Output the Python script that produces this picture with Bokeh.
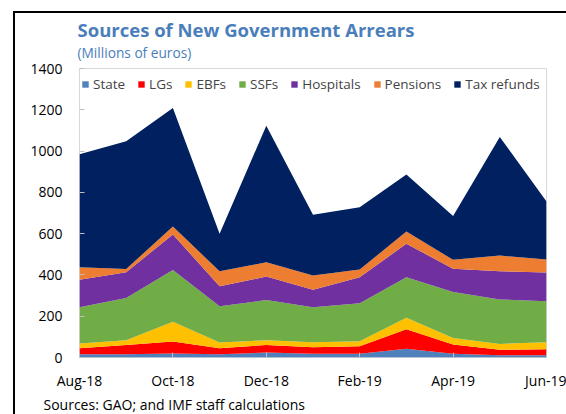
from bokeh.plotting import figure
from bokeh.models import ColumnDataSource, Range1d, FixedTicker, Title, InlineStyleSheet
from bokeh.embed import file_html
from bokeh.resources import INLINE

# ---------------- data (millions of euros) ----------------
months = ["Aug-18", "Sep-18", "Oct-18", "Nov-18", "Dec-18", "Jan-19",
          "Feb-19", "Mar-19", "Apr-19", "May-19", "Jun-19"]
state = [16, 16, 19, 16, 24, 18, 18, 42, 18, 11, 11]
lgs = [29, 45, 59, 29, 37, 32, 37, 95, 45, 26, 29]
ebfs = [23, 23, 95, 28, 23, 24, 24, 55, 32, 29, 34]
ssfs = [175, 204, 251, 175, 194, 170, 184, 197, 222, 215, 199]
hospitals = [134, 125, 172, 97, 114, 84, 126, 162, 113, 137, 139]
pensions = [60, 16, 38, 73, 69, 69, 37, 59, 43, 76, 63]
tax_refunds = [547, 618, 575, 181, 662, 294, 302, 277, 212, 574, 281]

series_names = ["State", "LGs", "EBFs", "SSFs", "Hospitals", "Pensions", "Tax refunds"]
series_values = [state, lgs, ebfs, ssfs, hospitals, pensions, tax_refunds]
colors = ["#4F81BD", "#FF0000", "#FFC000", "#70AD47", "#7030A0", "#ED7D31", "#002060"]
x_tick_idx = [0, 2, 4, 6, 8, 10]
y_ticks = [0, 200, 400, 600, 800, 1000, 1200, 1400]

title_text = "Sources of New Government Arrears"
subtitle_text = "(Millions of euros)"
source_text = "Sources: GAO; and IMF staff calculations"

# ---------------- layout ----------------
W, H = 566, 414
FL, FR, FT, FB = 79, 546, 68, 357   # frame edges in canvas pixels
XMIN, XMAX = 0, len(months) - 1
YMIN, YMAX = 0, 1400
FONT = "Open Sans"
BLUE = "#4A7EBB"

data = {"x": list(range(len(months)))}
for n, v in zip(series_names, series_values):
    data[n] = v
src = ColumnDataSource(data)

p = figure(width=W, height=H, output_backend="svg", toolbar_location=None,
           x_range=Range1d(XMIN, XMAX), y_range=Range1d(YMIN, YMAX),
           min_border_left=FL, min_border_right=W - FR,
           min_border_top=FT, min_border_bottom=H - FB)
p.background_fill_color = "white"
p.border_fill_color = "white"
p.outline_line_color = "#D9D9D9"
p.grid.visible = False

p.varea_stack(stackers=series_names, x="x", color=colors, source=src,
              legend_label=series_names)

for ax in (p.xaxis[0], p.yaxis[0]):
    ax.axis_line_color = None
    ax.major_tick_line_color = "#BFBFBF"
    ax.major_tick_in = 5
    ax.major_tick_out = 0
    ax.minor_tick_line_color = None
    ax.major_label_text_font = FONT
    ax.major_label_text_font_size = "14px"
    ax.major_label_text_color = "#000000"

p.xaxis.ticker = FixedTicker(ticks=x_tick_idx)
p.xaxis.major_label_overrides = {i: m for i, m in enumerate(months)}
p.xaxis.major_label_standoff = 13
p.yaxis.ticker = FixedTicker(ticks=y_ticks)
p.yaxis.major_label_standoff = 17

lg = p.legend[0]
lg.orientation = "horizontal"
lg.location = "top_left"
lg.background_fill_alpha = 0
lg.border_line_alpha = 0
lg.glyph_width = 8
lg.glyph_height = 8
lg.label_height = 28
lg.label_standoff = 4
lg.spacing = 12
lg.padding = 2
lg.margin = 0
lg.label_text_font = FONT
lg.label_text_font_size = "13.5px"

# titles in the side panels
p.title.text = title_text
p.title.align = "left"
p.title.offset = -2
p.title.standoff = -14
p.title.text_font = FONT
p.title.text_font_size = "18.5px"
p.title.text_font_style = "bold"
p.title.text_color = BLUE

p.add_layout(Title(text=subtitle_text, align="left", offset=-2, standoff=13,
                   text_font=FONT, text_font_size="13.7px",
                   text_font_style="normal", text_color=BLUE), "above")
p.add_layout(Title(text=source_text, align="left", offset=-36, standoff=1,
                   text_font=FONT, text_font_size="14px",
                   text_font_style="normal", text_color="#000000"), "below")

# black panel border (left and top), drawn over the canvas
p.stylesheets = [InlineStyleSheet(css=(
    ":host::after { content: ''; position: absolute; left: 13px; top: 11px; "
    "width: 600px; height: 500px; border-left: 2px solid #000; "
    "border-top: 2px solid #000; pointer-events: none; }"))]

open("out.html", "w").write(file_html(p, INLINE))
